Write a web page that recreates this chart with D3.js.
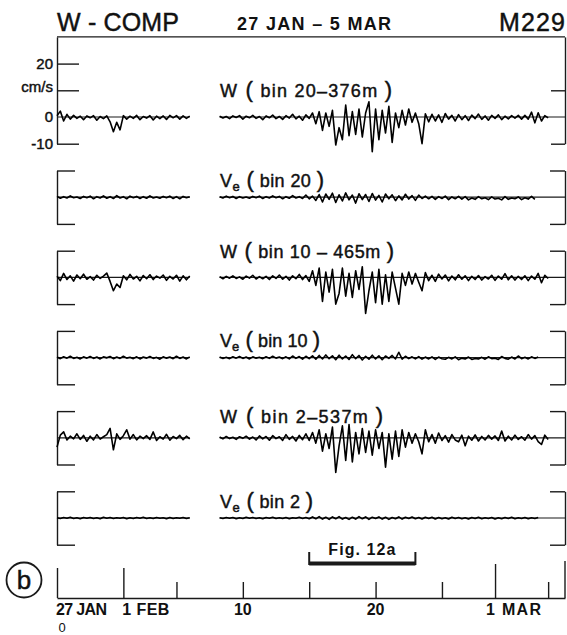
<!DOCTYPE html>
<html>
<head>
<meta charset="utf-8">
<script src="https://cdn.jsdelivr.net/npm/d3@7"></script>
<style>
  html, body { margin: 0; padding: 0; background: #fff; }
  svg { display: block; }
  text { font-family: "Liberation Sans", Arial, sans-serif; fill: #111; }
  text.heavy { stroke: #111; stroke-width: 0.45px; }
</style>
</head>
<body>
<div id="chart"></div>
<script>
/* ============================================= */
/* Data (cm/s, sampled every 6 h)                */
/* ============================================= */

// sample grid: segment 1 starts 27 Jan (day 0), segment 2 after the data gap
const seg1Start = 0;
const seg2Start = 12.25;
const sampleStep = 0.25;

const w20a = [0.5, 2.2, -1.5, 1.0, -0.8, 0.6, -0.5, 0.3, -1.0, 0.4, -0.3, 0.5, -1.2, 0.2, -0.6, 0.4, -1.8, -5.5, -2.0, -4.8,
  0.5, -0.8, 0.3, -0.5, 0.6, -1.0, 0.2, -0.4, 0.5, -1.1, 0.3, -0.6, 0.4, -0.9, 0.6, -0.3, 0.5, -0.8, 0.4, -0.5, 0.3];
const w20b = [0.3, -0.4, 0.2, -0.6, 0.4, -0.2, 0.5, -0.8, 0.3, -0.3, 0.6, -0.5, 0.2, -1.0, 0.4, -0.3, 0.7, -0.6, 0.2, -0.9,
  0.5, -0.4, 1.0, -0.7, 0.3, -1.2, 0.8, -0.5, 1.5,
  -2.5, 2.0, -5.0, 1.5, -3.5, 2.5, -10.5, -4.0, -8.5, 4.5, -7.0, 2.0, -6.5, 3.0, -7.5, 1.5, 5.7, -13.0, 3.0, -8.5,
  2.5, -6.0, 4.0, -9.5, 1.5, -4.0, 2.5, -3.0, 3.0, -2.0, 1.5, -2.5, -10.0,
  1.2, -1.8, 1.0, -1.5, 0.8, -2.0, 1.3, -0.8, 0.6, -1.5, 0.9, -1.0, 0.5, -1.3, 0.7, -0.6, 1.1, -0.9, 0.4, -1.2,
  0.6, -0.5, 0.8, -1.0, 0.3, -0.7, 0.5, -0.4, 0.6, -0.8, 0.6, -0.8, 1.8, -2.2, 1.6, -1.5, 0.5, -0.3];

const ve20a = [0.3, -0.4, 0.2, -0.3, 0.5, -0.2, 0.1, -0.5, 0.3, -0.2, 0.4, -0.6, 0.2, -0.3, 0.5, -0.4, 0.2, -0.5, 0.6, -0.3,
  0.2, -0.6, 0.4, -0.2, 0.3, -0.5, 0.2, -0.4, 0.5, -0.3, 0.1, -0.4, 0.3, -0.2, 0.4, -0.5, 0.2, -0.6, 0.3, -0.2, 0.2];
const ve20b = [0.2, -0.3, 0.4, -0.2, 0.3, -0.5, 0.2, -0.3, 0.1, -0.4, 0.3, -0.2, 0.4, -0.5, 0.2, -0.3, 0.5, -0.2, 0.3, -0.6,
  0.2, -0.4, 0.6, -0.3, 0.2, -0.5, 0.8, -0.6, 0.4,
  -1.2, 1.0, -1.8, 1.2, -0.8, 1.5, -2.0, 0.9, -1.4, 1.6, -1.0, 0.8, -2.2, 1.3, -0.9, 1.0, -1.6, 1.4, -1.1, 0.7,
  -1.8, 1.2, -0.6, 0.9, -1.3, 0.5, -1.0, 1.1, -0.7, 0.6, -1.2, 0.8, -0.5, 0.4,
  -0.6, 0.3, -0.8, 0.2, -0.5, 0.4, -0.9, 0.1, -0.6, 0.3, -0.7, 0.2, -1.0, -0.3, -0.8, 0.2, -0.6, -0.2, -0.9, 0.1,
  -0.7, -0.4, -1.0, 0.2, -0.8, -0.3, -0.6, 0.1, -0.9, -0.2, -0.7, 0.3, -0.8];

const w10a = [0.4, -1.2, 1.5, -0.8, 0.6, -1.4, 0.9, -0.5, 1.2, -0.7, 0.3, -1.0, 0.8, -0.4, 0.5, 1.6, -1.5, -5.0, -2.5, -3.8,
  0.6, -0.9, 1.1, -0.6, 0.4, -1.3, 0.7, -0.5, 1.0, -0.8, 0.5, -0.3, 0.9, -1.1, 0.4, -0.6, 0.8, -1.4, 0.6, -0.9, 0.5];
const w10b = [0.3, -0.5, 0.4, -0.3, 0.6, -0.4, 0.2, -0.7, 0.5, -0.3, 0.8, -0.6, 0.3, -0.5, 0.4, -0.8, 0.6, -0.4, 0.9, -0.7,
  0.4, -1.0, 0.6, -0.5, 1.1, -0.8, 0.7, -1.5, 2.5,
  -3.0, 3.5, -9.0, 2.0, -5.5, 3.0, -10.0, -6.0, 3.5, -7.0, 1.5, -7.5, 2.5, -4.5, 4.0, -13.5, -5.0, 2.0, -9.5, 3.0,
  -10.0, 1.0, -9.0, 2.0, -4.0, -10.0, 1.5, -3.0, 2.0, -2.5, 1.5, -1.8, -5.0,
  1.8, -1.2, 0.8, -1.5, 1.2, -0.6, 0.9, -1.3, 0.5, -0.9, 1.0, -0.7, 0.6, -1.2, 0.4, -0.8, 0.7, -1.0, 0.3, -0.6,
  0.8, -1.1, 0.5, -0.7, 1.4, -0.9, 0.6, -1.0, 0.4, -0.8, 0.6, -1.2, 0.5, -0.7, 1.5, -2.0, 0.8, -0.4];

const ve10a = [0.2, -0.4, 0.3, -0.2, 0.5, -0.3, 0.1, -0.5, 0.3, -0.2, 0.4, -0.3, 0.2, -0.5, 0.3, -0.1, 0.4, -0.4, 0.2, -0.3,
  0.5, -0.2, 0.1, -0.4, 0.3, -0.5, 0.2, -0.2, 0.4, -0.3, 0.1, -0.6, 0.3, -0.2, 0.2, -0.4, 0.5, -0.3, 0.2, -0.5, 0.3];
const ve10b = [0.2, -0.3, 0.1, -0.4, 0.3, -0.2, 0.4, -0.3, 0.2, -0.5, 0.3, -0.2, 0.1, -0.4, 0.3, -0.3, 0.5, -0.2, 0.2, -0.4,
  0.3, -0.5, 0.6, -0.3, 0.4, -0.6, 0.5, -0.4, 0.7,
  -0.6, 0.8, -0.5, 1.0, -0.4, 0.7, -0.8, 0.9, -0.5, 0.6, -0.7, 1.1, -0.4, 0.8, -0.9, 0.5, -0.6, 0.9, -0.5, 0.7,
  -0.8, 0.6, -0.3, 0.8, -0.5, 2.0, -0.6, 0.5, -0.4, 0.3, -0.5, 0.4, -0.6, 0.2,
  -0.5, 0.3, -0.7, 0.2, -0.4, -0.6, 0.1, -0.5, 0.3, -0.8, -0.2, -0.5, 0.2, -0.7, -0.3, -0.5, 0.1, -0.6, 0.3, -0.4,
  -0.2, -0.7, 0.4, -0.3, -0.6, 0.2, -0.5, 0.6, -0.4, 0.1, -0.5, 0.3, -0.3, 0.2];

const w2a = [-3.5, 1.0, 2.2, -0.8, 0.6, -0.4, 1.5, -0.6, 0.9, -1.3, 0.6, -0.8, 1.2, -0.5, 0.4, 1.2, 3.5, -4.5, 1.5, -0.6,
  0.8, 3.0, -0.5, 1.2, -0.8, 0.6, -0.3, 0.8, -0.6, 2.2, -1.0, 0.4, -0.5, 1.3, -0.9, 0.5, -0.3, 0.9, -0.7, 0.6, -0.4];
const w2b = [0.3, -0.4, 0.5, -0.3, 0.2, -0.6, 0.4, -0.2, 0.6, -0.5, 0.3, -0.8, 0.7, -0.4, 0.5, -0.9, 0.8, -0.3, 0.4, -1.0,
  1.2, -0.6, 0.5, -1.2, 0.9, -0.7, 1.5, -1.0, 2.0,
  -2.0, 3.0, -5.0, 1.5, -4.0, 4.0, -13.0, -3.0, 4.5, -8.5, 5.0, -9.0, 2.0, -6.0, 3.5, -5.5, 2.5, -6.5, 3.0,
  -4.0, 2.0, -11.0, 1.5, -8.0, 2.5, -7.0, 3.0, -3.5, 2.0, -2.0, 1.5, -1.5, -6.0,
  3.0, -1.5, 1.2, -2.0, 1.8, -1.0, 0.8, -1.6, 1.2, -0.8, -1.5, 1.0, -3.0, 0.6, -0.9, 1.1, -1.2, 0.5, -0.8, 0.9,
  -0.5, 0.7, -1.0, 2.5, -1.2, 0.6, -0.8, 1.0, -0.6, 0.4, -0.9, 1.2, -0.5, 0.8, -1.4, -2.5, 1.0, -0.6];

const ve2a = [0.1, -0.2, 0.2, -0.1, 0.3, -0.2, 0.1, -0.3, 0.2, -0.1, 0.2, -0.2, 0.1, -0.3, 0.3, -0.1, 0.2, -0.2, 0.1, -0.1,
  0.2, -0.3, 0.1, -0.2, 0.2, -0.1, 0.3, -0.2, 0.1, -0.2, 0.2, -0.1, 0.1, -0.3, 0.2, -0.2, 0.1, -0.1, 0.2, -0.2, 0.1];
const ve2b = [0.1, -0.2, 0.2, -0.1, 0.2, -0.3, 0.1, -0.2, 0.3, -0.1, 0.2, -0.2, 0.1, -0.3, 0.2, -0.1, 0.3, -0.2, 0.1, -0.2,
  0.2, -0.3, 0.1, -0.1, 0.3, -0.2, 0.2, -0.3, 0.4,
  -0.3, 0.5, -0.4, 0.3, -0.5, 0.4, -0.3, 0.5, -0.4, 0.2, -0.5, 0.3, -0.4, 0.5, -0.3, 0.4, -0.5, 0.3, -0.2, 0.4,
  -0.4, 0.3, -0.5, 0.2, -0.3, 0.4, -0.4, 0.3, -0.2, 0.4, -0.3, 0.2, -0.4, 0.3,
  -0.2, 0.3, -0.4, 0.2, -0.3, 0.1, -0.4, 0.3, -0.2, 0.2, -0.3, 0.1, -0.4, 0.2, -0.2, 0.3, -0.3, 0.1, -0.2, 0.2,
  -0.4, 0.1, -0.3, 0.2, -0.2, 0.3, -0.3, 0.1, -0.2, 0.2, -0.3, 0.1, -0.2, 0.2];

// panel labels
const panelVars = ['W', 'V', 'W', 'V', 'W', 'V'];
const panelSubs = ['', 'e', '', 'e', '', 'e'];
const panelBins = ['bin 20–376m', 'bin 20', 'bin 10 – 465m', 'bin 10', 'bin 2–537m', 'bin 2'];
const panelSeries = [[w20a, w20b], [ve20a, ve20b], [w10a, w10b], [ve10a, ve10b], [w2a, w2b], [ve2a, ve2b]];

// top panel axis
const topTicks = [-10, 0, 10, 20];
const topTickLabels = ['-10', '0', 'cm/s', '20'];

// time axis (days after 27 Jan)
const timeTickDays = [0, 5, 9, 14, 19, 24, 29, 33, 37];
const timeMajorDays = [0, 5, 33];
const timeLabelDays = [0, 5, 14, 24, 33];
const timeLabels = ['27 JAN', '1 FEB', '10', '20', '1 MAR'];
const figSpan = [19, 27];

/* ============================================= */
/* Layout                                        */
/* ============================================= */

const width = 567, height = 635;
const panelCenters = [117, 197.2, 277.4, 357.6, 437.8, 518];
const halfSpan = 26.7;           // pixels for 10 cm/s
const labelLift = [20, 10.5, 19.5, 10.5, 14.5, 10.5];
const labelWidths = [172, 104, 174, 100, 163, 93];
const axisY = 598;
const ink = '#1a1a1a';

const svg = d3.select('#chart').append('svg')
  .attr('width', width)
  .attr('height', height);

const x = d3.scaleLinear().domain([0, 38.27]).range([57, 565]);

function fitWidth(sel, target) {
  sel.each(function () {
    const n = this.getNumberOfChars();
    const w = this.getComputedTextLength();
    if (n > 1) d3.select(this).attr('letter-spacing', (target - w) / (n - 1));
  });
}

function styleAxis(g, sw) {
  g.selectAll('path, line').attr('stroke', ink).attr('stroke-width', sw);
  g.select('.domain').attr('fill', 'none');
}

/* ============================================= */
/* Titles                                        */
/* ============================================= */

svg.append('text').attr('class', 'heavy').attr('x', 57).attr('y', 31)
  .style('font-size', '25px').text('W - COMP')
  .call(fitWidth, 122);
svg.append('text').attr('x', 237).attr('y', 30)
  .style('font-size', '18px').style('font-weight', 'bold').text('27 JAN – 5 MAR')
  .call(fitWidth, 154);
svg.append('text').attr('class', 'heavy').attr('x', 499).attr('y', 31)
  .style('font-size', '25px').text('M229')
  .call(fitWidth, 66);

/* ============================================= */
/* Panels                                        */
/* ============================================= */

const line = d3.line().x(d => x(d.t)).y(d => d.y);

panelSeries.forEach((segs, i) => {
  const c = panelCenters[i];
  const top = i === 0 ? 30 : 10;
  const y = d3.scaleLinear().domain([-10, top]).range([c + halfSpan, c + halfSpan - (top + 10) * halfSpan / 10]);
  const g = svg.append('g');

  if (i === 0) {
    // left axis with labels
    const left = g.append('g').attr('transform', `translate(${x.range()[0]},0)`)
      .call(d3.axisLeft(y).tickValues(topTicks).tickSize(-22).tickSizeOuter(0).tickPadding(4)
        .tickFormat((d, k) => topTickLabels[k]));
    styleAxis(left, 1.4);
    left.selectAll('text').attr('class', 'heavy').style('font-size', '15px').attr('fill', ink)
      .style('font-family', '"Liberation Sans", Arial, sans-serif');
    left.selectAll('.tick').filter(d => d === 10).select('text').attr('dy', '0.05em');
    left.selectAll('.tick').filter(d => d === 0).select('line').remove();

    const right = g.append('g').attr('transform', `translate(${x.range()[1]},0)`)
      .call(d3.axisRight(y).tickValues([-10, 10]).tickSize(-14).tickSizeOuter(0).tickFormat(''));
    styleAxis(right, 1.4);

    g.append('line')
      .attr('x1', x.range()[0]).attr('x2', x.range()[1])
      .attr('y1', y(top)).attr('y2', y(top))
      .attr('stroke', ink).attr('stroke-width', 1.3);
  } else {
    const left = g.append('g').attr('transform', `translate(${x.range()[0]},0)`)
      .call(d3.axisLeft(y).tickValues([-10, 10]).tickSize(-18).tickSizeOuter(0).tickFormat(''));
    styleAxis(left, 1.4);
    const right = g.append('g').attr('transform', `translate(${x.range()[1]},0)`)
      .call(d3.axisRight(y).tickValues([-10, 10]).tickSize(-15).tickSizeOuter(0).tickFormat(''));
    styleAxis(right, 1.4);
  }

  // zero reference lines for each data segment
  const starts = [seg1Start, seg2Start];
  segs.forEach((vals, s) => {
    const t0 = starts[s];
    const t1 = t0 + (vals.length - 1) * sampleStep;
    g.append('line')
      .attr('x1', x(t0)).attr('x2', s === 1 ? x.range()[1] : x(t1))
      .attr('y1', y(0)).attr('y2', y(0))
      .attr('stroke', ink).attr('stroke-width', 1.2);

    const pts = vals.map((v, k) => ({ t: t0 + k * sampleStep, y: y(v) }));
    g.append('path')
      .attr('d', line(pts))
      .attr('fill', 'none')
      .attr('stroke', '#000')
      .attr('stroke-width', 1.6)
      .attr('stroke-linejoin', 'round');
  });

  // panel label
  const lab = g.append('text')
    .attr('class', 'heavy')
    .attr('x', 220)
    .attr('y', c - labelLift[i])
    .style('font-size', '18px');
  lab.append('tspan').text(panelVars[i]);
  if (panelSubs[i]) {
    lab.append('tspan').attr('dy', 4).style('font-size', '13px').text(panelSubs[i]);
    lab.append('tspan').attr('dy', -4).style('font-size', '22px').text(' (');
  } else {
    lab.append('tspan').style('font-size', '22px').text(' (');
  }
  lab.append('tspan').text(' ' + panelBins[i] + ' ');
  lab.append('tspan').style('font-size', '22px').text(')');
  lab.call(fitWidth, labelWidths[i]);
});

/* ============================================= */
/* Time axis                                     */
/* ============================================= */

const tAxis = svg.append('g').attr('transform', `translate(0,${axisY})`)
  .call(d3.axisBottom(x).tickValues(timeTickDays).tickSize(-16).tickSizeOuter(0).tickFormat(''));
styleAxis(tAxis, 1.4);
tAxis.selectAll('.tick').filter(d => timeMajorDays.includes(d)).select('line').attr('y2', -30);
tAxis.selectAll('.tick').filter(d => d === 33).select('line').attr('y2', -34);
tAxis.append('line')
  .attr('x1', x.range()[1]).attr('x2', x.range()[1])
  .attr('y1', 0).attr('y2', -37)
  .attr('stroke', ink).attr('stroke-width', 1.4);

const labelShift = [-1, -1, 0, 0, -9];
const labelAnchor = ['start', 'start', 'middle', 'middle', 'start'];
const labelFit = [51, 47, 0, 0, 55];
timeLabelDays.forEach((d, k) => {
  const t = svg.append('text')
    .attr('x', x(d) + labelShift[k])
    .attr('y', 615)
    .attr('text-anchor', labelAnchor[k])
    .style('font-size', '16px').style('font-weight', 'bold')
    .text(timeLabels[k]);
  if (labelFit[k]) t.call(fitWidth, labelFit[k]);
});
svg.append('text')
  .attr('x', x(0) + 5).attr('y', 632)
  .attr('text-anchor', 'middle')
  .style('font-size', '13px')
  .text('0');

// Fig. 12a span marker
const fx0 = x(figSpan[0]), fx1 = x(figSpan[1]);
svg.append('path')
  .attr('d', `M${fx0},552 V564 H${fx1} V552`)
  .attr('fill', 'none').attr('stroke', ink).attr('stroke-width', 2);
svg.append('line')
  .attr('x1', fx0).attr('x2', fx1).attr('y1', 563.5).attr('y2', 563.5)
  .attr('stroke', ink).attr('stroke-width', 4);
svg.append('text')
  .attr('x', (fx0 + fx1) / 2 - 34).attr('y', 555)
  .style('font-size', '16px').style('font-weight', 'bold')
  .text('Fig. 12a')
  .call(fitWidth, 67);

// panel letter
svg.append('circle')
  .attr('cx', 24).attr('cy', 580).attr('r', 17.5)
  .attr('fill', 'none').attr('stroke', ink).attr('stroke-width', 1.8);
svg.append('text')
  .attr('class', 'heavy')
  .attr('x', 24).attr('y', 589)
  .attr('text-anchor', 'middle')
  .style('font-size', '26px')
  .text('b');
</script>
</body>
</html>
